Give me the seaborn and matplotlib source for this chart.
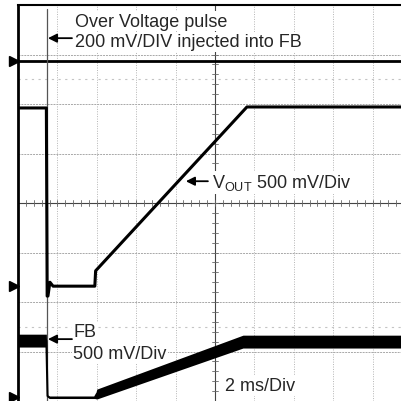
import numpy as np
import seaborn as sns
import matplotlib
matplotlib.use('Agg')
import matplotlib.pyplot as plt

# scope screen in divisions: 10 horizontal (2 ms/div), 8 vertical
# over-voltage pulse channel
pulse_t = [0.0, 10.0]
pulse_v = [6.87, 6.87]
pulse_edge_t = [0.74, 0.74]
pulse_edge_v = [7.92, 0.0]

# VOUT channel
vout_t = [0.0, 0.72, 0.74, 0.76, 0.81, 0.89, 1.95, 1.97, 5.81, 10.0]
vout_v = [5.92, 5.92, 2.12, 2.12, 2.40, 2.32, 2.32, 2.63, 5.94, 5.94]

# FB channel (center of trace and half height of the noise band)
fb_t = [0.0, 0.72, 0.75, 0.80, 1.95, 2.00, 5.71, 10.0]
fb_v = [1.22, 1.22, 0.10, 0.07, 0.07, 0.14, 1.20, 1.20]
fb_half = [0.13, 0.13, 0.02, 0.02, 0.02, 0.10, 0.13, 0.13]

# channel ground markers on the left edge
marker_v = [6.87, 2.32, 0.08]

sns.set_theme(style="white")
plt.rcParams['font.family'] = ['Liberation Sans', 'DejaVu Sans']
plt.rcParams['mathtext.fontset'] = 'custom'
plt.rcParams['mathtext.rm'] = 'Liberation Sans'

fig = plt.figure(figsize=(4.01, 4.02), dpi=100)
ax = fig.add_axes([18 / 401, 0, 394 / 401, 396 / 402])
ax.set_xlim(0, 10)
ax.set_ylim(0, 8)
ax.set_xticks([])
ax.set_yticks([])

# graticule
for gx in range(1, 10):
    ax.axvline(gx, color='#b4b4b4', lw=0.7, ls=(0, (1, 1.5)), zorder=1)
for gy in range(1, 8):
    ax.axhline(gy, color='#a8a8a8', lw=0.7, ls=(0, (2, 1)), zorder=1)
for gy in [1.5, 6.5]:
    ax.axhline(gy, color='#c4c4c4', lw=0.8, ls=(0, (2, 4)), zorder=1)
ax.axhline(4, color='#444444', lw=0.8, zorder=1)
ax.axvline(5, color='#444444', lw=0.8, zorder=1)
for tx in np.arange(0.2, 10, 0.2):
    ax.plot([tx, tx], [3.94, 4.06], color='#666666', lw=0.6, zorder=1)
for ty in np.arange(0.2, 8, 0.2):
    ax.plot([4.92, 5.08], [ty, ty], color='#666666', lw=0.6, zorder=1)

# traces
sns.lineplot(x=pulse_t, y=pulse_v, sort=False, estimator=None, color='black', lw=2.0, ax=ax, zorder=3)
sns.lineplot(x=pulse_edge_t, y=pulse_edge_v, sort=False, estimator=None, color='#555555', lw=0.9, ax=ax, zorder=3)
sns.lineplot(x=vout_t, y=vout_v, sort=False, estimator=None, color='black', lw=2.2, ax=ax, zorder=3)
lo = [v - h for v, h in zip(fb_v, fb_half)]
hi = [v + h for v, h in zip(fb_v, fb_half)]
ax.fill_between(fb_t, lo, hi, color='black', lw=0, zorder=3)
sns.lineplot(x=fb_t, y=fb_v, sort=False, estimator=None, color='black', lw=1.5, ax=ax, zorder=3)

ax.plot([-0.1] * len(marker_v), marker_v, ls='none', marker='>', ms=7, color='black', clip_on=False, zorder=5)

# labels
box = dict(facecolor='white', edgecolor='none', pad=1)
arrow = dict(arrowstyle='-|>', color='black', lw=1.3, mutation_scale=13, shrinkA=0, shrinkB=0)
fs = 13
ax.text(1.45, 7.58, "Over Voltage pulse", fontsize=fs, va='baseline', bbox=box, zorder=6)
ax.text(1.45, 7.17, "200 mV/DIV injected into FB", fontsize=fs, va='baseline', bbox=box, zorder=6)
ax.annotate("", xy=(0.76, 7.33), xytext=(1.37, 7.33), arrowprops=arrow, zorder=6)

ax.text(4.92, 4.32, r"V$_{\mathrm{OUT}}$ 500 mV/Div", fontsize=fs, va='baseline', bbox=box, zorder=6)
ax.annotate("", xy=(4.26, 4.44), xytext=(4.82, 4.44), arrowprops=arrow, zorder=6)

ax.text(1.40, 1.31, "FB", fontsize=fs, va='baseline', bbox=box, zorder=6)
ax.text(1.40, 0.87, "500 mV/Div", fontsize=fs, va='baseline', bbox=box, zorder=6)
ax.annotate("", xy=(0.76, 1.25), xytext=(1.37, 1.25), arrowprops=arrow, zorder=6)

ax.text(5.25, 0.22, "2 ms/Div", fontsize=fs, va='baseline', bbox=box, zorder=6)

for side in ['right', 'bottom']:
    ax.spines[side].set_visible(False)
ax.spines['left'].set_color('black')
ax.spines['left'].set_linewidth(2)
ax.spines['top'].set_color('black')
ax.spines['top'].set_linewidth(1.5)

fig.savefig('out.png', dpi=100, facecolor='white')
plt.close(fig)
